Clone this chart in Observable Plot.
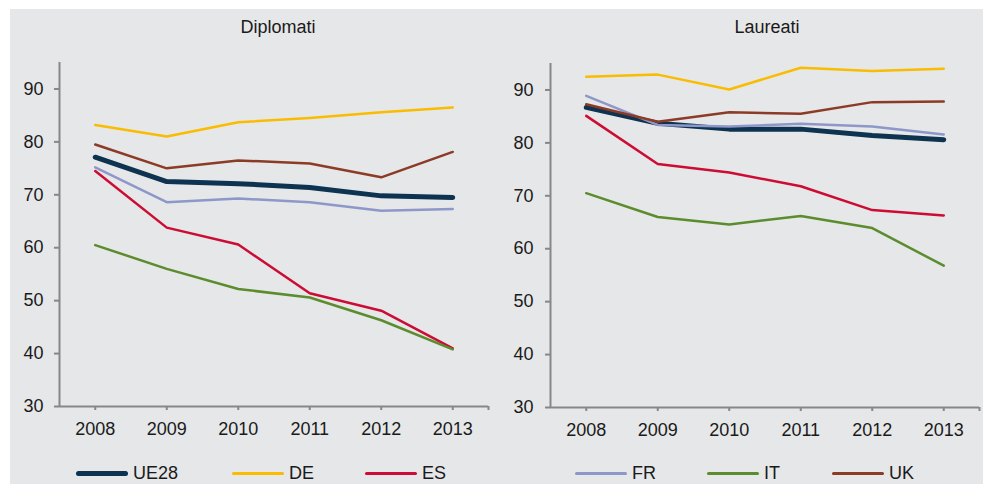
<!DOCTYPE html>
<html><head><meta charset="utf-8">
<script src="https://cdn.jsdelivr.net/npm/d3@7"></script>
<script src="https://cdn.jsdelivr.net/npm/@observablehq/plot@0.6"></script>
<style>
html,body{margin:0;padding:0;background:#fff;}
#wrap{position:relative;width:983px;height:484px;overflow:hidden;font-family:"Liberation Sans",Arial,sans-serif;color:#1a1a1a;}
#bg{position:absolute;left:10px;top:9px;width:973px;height:475px;background:#e6e7e8;}
.panel{position:absolute;top:0;}
.title{position:absolute;font-size:18px;line-height:20px;transform:translateX(-50%);white-space:nowrap;}
.leg{position:absolute;display:flex;align-items:center;font-size:18px;line-height:22px;white-space:nowrap;}
.sw{display:inline-block;width:52px;margin-right:5px;border-radius:3px;}
</style></head><body>
<div id="wrap"><div id="bg"></div></div>
<script>
// ---- data ----
const years = [2008, 2009, 2010, 2011, 2012, 2013];
const yTicks = [30, 40, 50, 60, 70, 80, 90];
const seriesNames = ["UE28", "DE", "ES", "FR", "IT", "UK"];
const panelTitles = ["Diplomati", "Laureati"];
const legendLeft = ["UE28", "DE", "ES"];
const legendRight = ["FR", "IT", "UK"];

// Diplomati
const dipUE28 = [77.1, 72.5, 72.1, 71.4, 69.8, 69.5];
const dipDE   = [83.2, 81.0, 83.7, 84.5, 85.6, 86.5];
const dipES   = [74.5, 63.8, 60.6, 51.4, 48.1, 41.0];
const dipFR   = [75.2, 68.6, 69.3, 68.6, 67.0, 67.3];
const dipIT   = [60.5, 56.0, 52.2, 50.6, 46.3, 40.8];
const dipUK   = [79.5, 75.0, 76.5, 75.9, 73.3, 78.1];

// Laureati
const laurUE28 = [86.7, 83.7, 82.6, 82.6, 81.4, 80.6];
const laurDE   = [92.5, 92.9, 90.1, 94.2, 93.6, 94.0];
const laurES   = [85.1, 76.0, 74.4, 71.8, 67.3, 66.3];
const laurFR   = [88.9, 83.4, 83.1, 83.6, 83.1, 81.6];
const laurIT   = [70.5, 66.0, 64.6, 66.2, 63.9, 56.8];
const laurUK   = [87.3, 84.0, 85.8, 85.5, 87.7, 87.8];

// ---- styles ----
const colors = {UE28: "#0d3350", DE: "#f9bc00", ES: "#cc0c34", FR: "#8e97ca", IT: "#5b8c2d", UK: "#8c3b27"};
const widths = {UE28: 5, DE: 2.5, ES: 2.5, FR: 2.5, IT: 2.5, UK: 2.5};
const axisGray = "#878787";
const textCol = "#1a1a1a";

function toRows(map) {
  const rows = [];
  for (const s of seriesNames) map[s].forEach((v, i) => rows.push({series: s, year: years[i], value: v}));
  return rows;
}
const dipRows = toRows({UE28: dipUE28, DE: dipDE, ES: dipES, FR: dipFR, IT: dipIT, UK: dipUK});
const laurRows = toRows({UE28: laurUE28, DE: laurDE, ES: laurES, FR: laurFR, IT: laurIT, UK: laurUK});

function panel(rows, o) {
  return Plot.plot({
    width: o.width, height: 484,
    marginLeft: o.ml, marginRight: o.mr, marginTop: o.mt, marginBottom: o.mb,
    style: {background: "transparent", fontFamily: "'Liberation Sans', Arial, sans-serif", color: textCol, overflow: "visible"},
    x: {type: "linear", domain: [years[0] - 0.5, years[years.length - 1] + 0.5]},
    y: {domain: [30, 95]},
    marks: [
      Plot.axisY({ticks: yTicks, tickSize: 5, tickPadding: o.ypad, stroke: axisGray, strokeWidth: 2, fill: textCol, fontSize: 18, label: null, tickFormat: d => String(d)}),
      Plot.axisX({ticks: [...years, years[years.length - 1] + 0.5], tickSize: 4, tickPadding: 12, stroke: axisGray, strokeWidth: 2, fill: textCol, fontSize: 18, label: null, tickFormat: d => years.includes(d) ? String(d) : ""}),
      Plot.ruleX([years[0] - 0.5], {stroke: axisGray, strokeWidth: 2}),
      Plot.ruleY([30], {stroke: axisGray, strokeWidth: 2}),
      ...seriesNames.map(s => Plot.line(rows.filter(r => r.series === s), {
        x: "year", y: "value", stroke: colors[s], strokeWidth: widths[s], strokeLinejoin: "round", strokeLinecap: "round"
      }))
    ]
  });
}

const wrap = document.getElementById("wrap");
function place(el, left) {
  const d = document.createElement("div");
  d.className = "panel";
  d.style.left = left + "px";
  d.appendChild(el);
  wrap.appendChild(d);
}
place(panel(dipRows, {width: 490, ml: 59, mr: 2, mt: 62, mb: 78, ypad: 11}), 0);
place(panel(laurRows, {width: 493, ml: 60, mr: 4, mt: 63, mb: 77, ypad: 12}), 490);

// titles
[[panelTitles[0], 278], [panelTitles[1], 767]].forEach(([t, cx]) => {
  const d = document.createElement("div");
  d.className = "title";
  d.textContent = t;
  d.style.left = cx + "px";
  d.style.top = "17.4px";
  wrap.appendChild(d);
});

// legends
const legPos = {UE28: 76, DE: 232, ES: 365, FR: 575, IT: 707, UK: 832};
[...legendLeft, ...legendRight].forEach(s => {
  const d = document.createElement("div");
  d.className = "leg";
  d.style.left = legPos[s] + "px";
  d.style.top = "462px";
  const sw = document.createElement("span");
  sw.className = "sw";
  sw.style.height = (s === "UE28" ? 5 : 3) + "px";
  sw.style.background = colors[s];
  const t = document.createElement("span");
  t.textContent = s;
  d.appendChild(sw); d.appendChild(t);
  wrap.appendChild(d);
});
</script>
</body></html>
